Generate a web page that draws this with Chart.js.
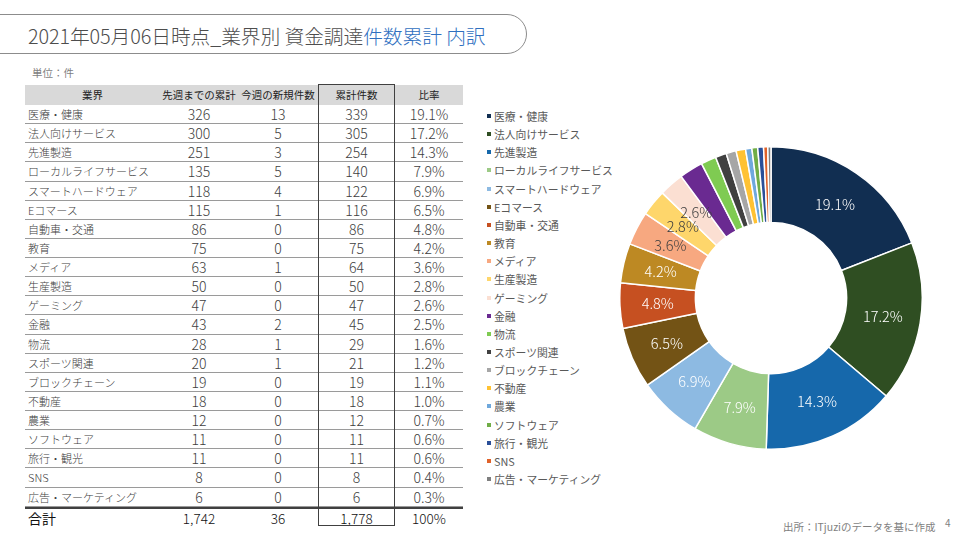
<!DOCTYPE html>
<html lang="ja">
<head>
<meta charset="utf-8">
<script src="https://cdn.jsdelivr.net/npm/chart.js@4.4.1/dist/chart.umd.min.js"></script>
<style>
  body { margin:0; width:960px; height:540px; background:#fff; position:relative; overflow:hidden;
         font-family:"Noto Sans CJK JP","Noto Sans",sans-serif; color:#404040; }
  .title { position:absolute; left:-30px; top:14px; width:557px; height:40px; box-sizing:border-box;
           border:1px solid #8c8c8c; border-radius:0 20px 20px 0; }
  .title span { position:absolute; left:57px; top:6px; font-size:19.8px; font-weight:300; color:#4d4d4d; white-space:nowrap; letter-spacing:-0.1px; }
  .title b { font-weight:300; color:#2f6fbf; }
  .unit { position:absolute; left:32px; top:65px; font-size:10.5px; color:#7f7f7f; }
  #tbl { position:absolute; left:25px; top:85px; width:438px; }
  .row { display:flex; box-sizing:border-box; height:19.14px; border-bottom:1px solid #9a9a9a; align-items:center; }
  .row div { text-align:center; font-size:14px; font-weight:300; color:#404040; white-space:nowrap; line-height:18px; }
  .row div.name { text-align:left; padding-left:3px; box-sizing:border-box; font-size:11px; }
  .hdr { background:#d9d9d9; height:20px; border-bottom:none; }
  .hdr div { font-size:10.5px !important; font-weight:400 !important; color:#222 !important; }
  .tot { border-top:2px solid #404040; border-bottom:none; height:20px; }
  .tot div { font-size:13.5px !important; font-weight:300 !important; color:#111 !important; }
  .tot div.name { font-size:14px !important; font-weight:400 !important; }
  .box { position:absolute; left:318px; top:84px; width:77px; height:442px; box-sizing:border-box; border:1.5px solid #404040; }
  #legend { position:absolute; left:487px; top:107px; }
  .li { position:absolute; left:0; height:18px; line-height:18px; font-size:10.8px; color:#595959; white-space:nowrap; }
  .li i { position:absolute; left:0; top:7px; width:4px; height:4px; }
  .li span { position:absolute; left:7px; top:0; }
  #chartBox { position:absolute; left:619px; top:146px; width:304px; height:304px; }
  .src { position:absolute; left:783px; top:519px; font-size:10.5px; color:#7f7f7f; white-space:nowrap; }
  .pg { position:absolute; left:945px; top:515px; font-size:10px; color:#7f7f7f; }
</style>
</head>
<body>
<div class="title"><span>2021年05月06日時点_業界別 資金調達<b>件数累計 内訳</b></span></div>
<div class="unit">単位：件</div>
<div id="tbl"></div>
<div class="box"></div>
<div id="legend"></div>
<div id="chartBox"><canvas id="donut" width="304" height="304"></canvas></div>
<div class="src">出所：ITjuziのデータを基に作成</div>
<div class="pg">4</div>

<script>
// 業界ごとのデータ
var industries = ["医療・健康","法人向けサービス","先進製造","ローカルライフサービス","スマートハードウェア",
  "Eコマース","自動車・交通","教育","メディア","生産製造","ゲーミング","金融","物流","スポーツ関連",
  "ブロックチェーン","不動産","農業","ソフトウェア","旅行・観光","SNS","広告・マーケティング"];
var prevTotal = [326,300,251,135,118,115,86,75,63,50,47,43,28,20,19,18,12,11,11,8,6];
var newThisWeek = [13,5,3,5,4,1,0,0,1,0,0,2,1,1,0,0,0,0,0,0,0];
var cumTotal = [339,305,254,140,122,116,86,75,64,50,47,45,29,21,19,18,12,11,11,8,6];
var ratio = [19.1,17.2,14.3,7.9,6.9,6.5,4.8,4.2,3.6,2.8,2.6,2.5,1.6,1.2,1.1,1.0,0.7,0.6,0.6,0.4,0.3];
var headers = ["業界","先週までの累計","今週の新規件数","累計件数","比率"];
var totals = ["合計","1,742","36","1,778","100%"];

var sliceColors = ["#112e51","#2f4e22","#1668ab","#9cca86","#8dbae2","#735315","#c65021","#bd8923",
  "#f7a880","#fed66b","#fbdfd2","#6a2a91","#7fcb52","#404040","#a6a6a6","#ffc233","#6fa8dc",
  "#70ad47","#2a4f99","#e0622a","#7f7f7f"];
var darkLabel = [8,9,10]; // 明るいスライスは濃い文字
var colW = [135,78,80,77,68];

function cellRow(cls, vals) {
  var h = '<div class="row ' + cls + '">';
  for (var j = 0; j < vals.length; j++) {
    h += '<div class="' + (j == 0 && cls != "hdr" ? "name" : "") + '" style="width:' + colW[j] + 'px">' + vals[j] + '</div>';
  }
  return h + '</div>';
}

var html = cellRow("hdr", headers);
for (var i = 0; i < industries.length; i++) {
  html += cellRow("", [industries[i], prevTotal[i], newThisWeek[i], cumTotal[i], ratio[i].toFixed(1) + "%"]);
}
html += cellRow("tot", totals);
document.getElementById("tbl").innerHTML = html;

var lg = "";
for (var i = 0; i < industries.length; i++) {
  lg += '<div class="li" style="top:' + (i * 18.15) + 'px"><i style="background:' + sliceColors[i] + '"></i><span>' + industries[i] + '</span></div>';
}
document.getElementById("legend").innerHTML = lg;

var sliceLabels = {
  id: "sliceLabels",
  afterDatasetsDraw: function (chart) {
    var ctx = chart.ctx;
    var meta = chart.getDatasetMeta(0);
    ctx.save();
    ctx.font = '300 14.5px "Noto Sans CJK JP"';
    ctx.textAlign = "center";
    ctx.textBaseline = "middle";
    meta.data.forEach(function (arc, i) {
      if (ratio[i] < 2.6) return;
      var p = arc.tooltipPosition();
      ctx.fillStyle = darkLabel.indexOf(i) >= 0 ? "#404040" : "#ffffff";
      ctx.fillText(ratio[i].toFixed(1) + "%", p.x, p.y);
    });
    ctx.restore();
  }
};

new Chart(document.getElementById("donut").getContext("2d"), {
  type: "doughnut",
  data: {
    labels: industries,
    datasets: [{
      data: cumTotal,
      backgroundColor: sliceColors,
      borderColor: "#ffffff",
      borderWidth: 1.5,
      hoverOffset: 0
    }]
  },
  options: {
    responsive: false,
    animation: false,
    cutout: "50%",
    layout: { padding: 0 },
    plugins: { legend: { display: false }, tooltip: { enabled: false } }
  },
  plugins: [sliceLabels]
});
</script>
</body>
</html>
